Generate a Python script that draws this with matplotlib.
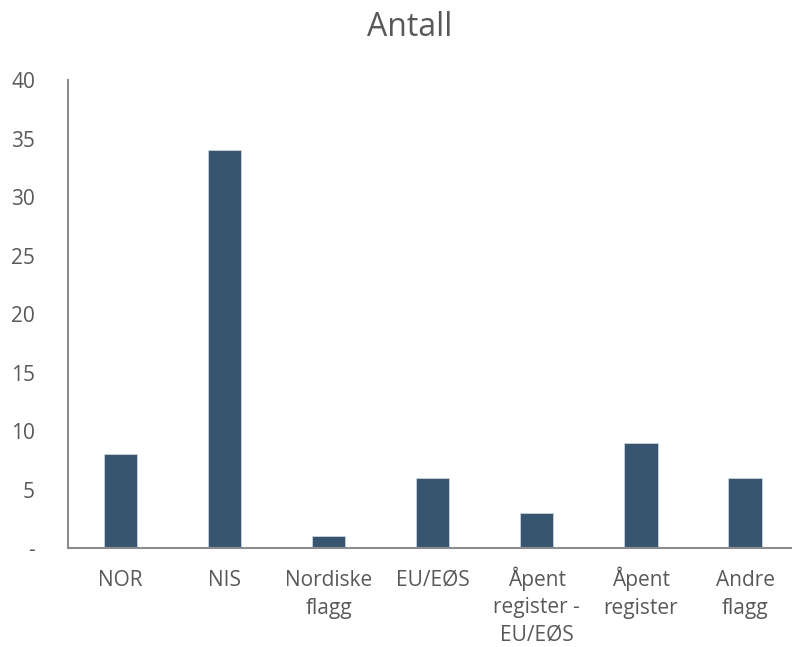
import matplotlib
matplotlib.use('Agg')
from matplotlib import pyplot as plt
from matplotlib import transforms
from matplotlib.ticker import FuncFormatter

categories = ['NOR', 'NIS', 'Nordiske\nflagg', 'EU/EØS', 'Åpent\nregister -\nEU/EØS', 'Åpent\nregister', 'Andre\nflagg']
values = [8, 34, 1, 6, 3, 9, 6]
yticks = [0, 5, 10, 15, 20, 25, 30, 35, 40]

plt.rcParams['font.family'] = ['Open Sans', 'DejaVu Sans']
text_col = '#595959'
bar_col = '#38556F'
axis_col = '#8C8C8C'

fig = plt.figure(figsize=(7.92, 6.47), dpi=100)
ax = fig.add_axes([0.0864, 0.153, 0.92, 0.723])

ax.bar(range(len(categories)), values, width=0.32, color=bar_col, edgecolor='#C9D3DE', linewidth=0.6)

ax.set_xlim(-0.5, len(categories) - 0.5)
ax.set_ylim(0, 40)
ax.set_yticks(yticks)
ax.yaxis.set_major_formatter(FuncFormatter(lambda v, p: '-' if v == 0 else '%d' % v))
ax.set_xticks(range(len(categories)))
ax.set_xticklabels([])

# category labels: first line baseline ~38px under the axis, ~27.5px per line
line_px = 27.5
for i, lab in enumerate(categories):
    n = lab.count('\n')
    tr = transforms.offset_copy(ax.get_xaxis_transform(), fig=fig, y=-(38 + line_px * n), units='dots')
    ax.text(i, 0, lab, transform=tr, ha='center', va='baseline', ma='center',
            fontsize=15, color=text_col, linespacing=1.42)

for s in ['top', 'right']:
    ax.spines[s].set_visible(False)
for s in ['left', 'bottom']:
    ax.spines[s].set_color(axis_col)
    ax.spines[s].set_linewidth(1.5)

ax.tick_params(axis='y', length=0, pad=24, labelsize=15, labelcolor=text_col)
ax.tick_params(axis='x', length=0)

fig.suptitle('Antall', x=0.517, y=0.983, va='top', fontsize=23, color=text_col)

fig.savefig('out.png', dpi=100)
